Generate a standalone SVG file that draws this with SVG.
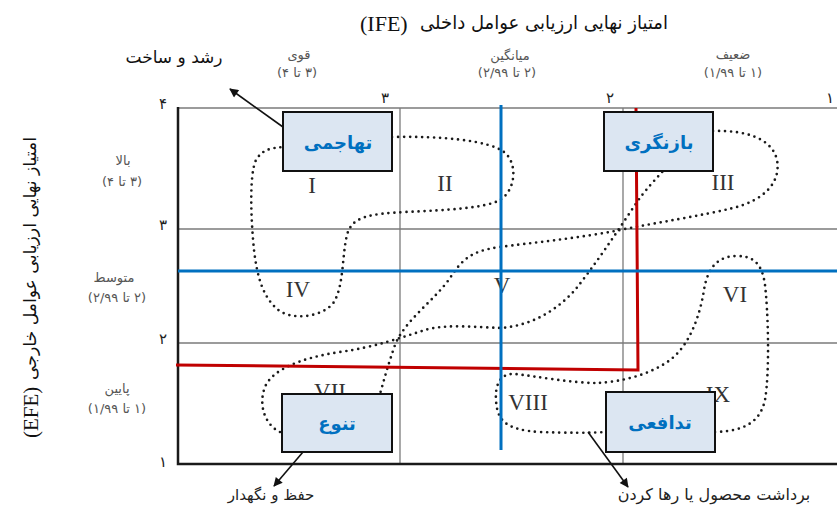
<svg xmlns="http://www.w3.org/2000/svg" width="837" height="511" viewBox="0 0 837 511">
<defs>
<marker id="ah" viewBox="0 0 10 10" refX="9" refY="5" markerWidth="11" markerHeight="9" markerUnits="userSpaceOnUse" orient="auto"><path d="M0,0 L10,5 L0,10 z" fill="#111"/></marker>
</defs>
<style>
.fa{font-family:'DejaVu Sans','Noto Sans',sans-serif;}
.lbl{font-size:13px;fill:#555;text-anchor:middle}
.tick{font-family:'DejaVu Sans',sans-serif;font-size:15px;fill:#222;text-anchor:middle}
.rom{font-family:'Liberation Serif',serif;font-size:23px;fill:#333;text-anchor:middle}
.grid{stroke:#7a7a7a;stroke-width:1.3;fill:none}
.frame{stroke:#1a1a1a;stroke-width:2.5;fill:none}
.dot{stroke:#1a1a1a;stroke-width:2.7;stroke-dasharray:0 6;stroke-linecap:round;fill:none}
.box rect{fill:#dce6f2;stroke:#111;stroke-width:2}
.box text{font-family:'DejaVu Sans',sans-serif;font-size:18px;font-weight:bold;fill:#0070c0;text-anchor:middle}
.arr{stroke:#111;stroke-width:1.6;fill:none;marker-end:url(#ah)}
.blue{stroke:#0070c0;stroke-width:3;fill:none}
.red{stroke:#c00000;stroke-width:3;fill:none}
</style>
<rect x="0" y="0" width="837" height="511" fill="#fff"/>

<g id="titles">
<text class="fa" x="668" y="29" font-size="19" text-anchor="end" fill="#111" textLength="248" lengthAdjust="spacingAndGlyphs">امتیاز نهایی ارزیابی عوامل داخلی</text>
<text x="360" y="31" font-family="'Liberation Serif',serif" font-size="22" fill="#111">(IFE)</text>
<g transform="translate(38,0) rotate(-90)">
<text class="fa" x="-137" y="-2" font-size="17" text-anchor="end" fill="#111" textLength="243" lengthAdjust="spacingAndGlyphs">امتیاز نهایی ارزیابی عوامل خارجی</text>
<text x="-438" y="0" font-family="'Liberation Serif',serif" font-size="21" fill="#111">(EFE)</text>
</g>
</g>

<g id="axis-labels">
<text class="fa lbl" x="299" y="59" direction="rtl">قوی</text>
<text class="fa lbl" x="297" y="77" direction="rtl">(۳ تا ۴)</text>
<text class="fa lbl" x="510" y="60" direction="rtl">میانگین</text>
<text class="fa lbl" x="507" y="77" direction="rtl">(۲ تا ۲/۹۹)</text>
<text class="fa lbl" x="733" y="59" direction="rtl">ضعیف</text>
<text class="fa lbl" x="733" y="77" direction="rtl">(۱ تا ۱/۹۹)</text>
<text class="fa lbl" x="123" y="165" direction="rtl">بالا</text>
<text class="fa lbl" x="122" y="186" direction="rtl">(۳ تا ۴)</text>
<text class="fa lbl" x="114" y="282" direction="rtl">متوسط</text>
<text class="fa lbl" x="117" y="302" direction="rtl">(۲ تا ۲/۹۹)</text>
<text class="fa lbl" x="117" y="393" direction="rtl">پایین</text>
<text class="fa lbl" x="117" y="413" direction="rtl">(۱ تا ۱/۹۹)</text>
<text class="tick" x="163" y="109">۴</text>
<text class="tick" x="163" y="230">۳</text>
<text class="tick" x="163" y="344">۲</text>
<text class="tick" x="163" y="467">۱</text>
<text class="tick" x="385" y="103">۳</text>
<text class="tick" x="610" y="103">۲</text>
<text class="tick" x="830" y="103">۱</text>
</g>

<g id="grid">
<line class="grid" x1="178" y1="108" x2="837" y2="108"/>
<line class="grid" x1="178" y1="229" x2="837" y2="229"/>
<line class="grid" x1="178" y1="343" x2="837" y2="343"/>
<line class="grid" x1="400" y1="108" x2="400" y2="464"/>
<line class="grid" x1="623" y1="108" x2="623" y2="464"/>
<polyline class="frame" points="178,107 178,464 837,464"/>
</g>

<g id="cells">
<text class="rom" x="312" y="193">I</text>
<text class="rom" x="445" y="191">II</text>
<text class="rom" x="723" y="190">III</text>
<text class="rom" x="298" y="297">IV</text>
<text class="rom" x="502" y="293">V</text>
<text class="rom" x="735" y="302">VI</text>
<text class="rom" x="330" y="399">VII</text>
<text class="rom" x="528" y="410">VIII</text>
<text class="rom" x="718" y="402">IX</text>
</g>

<g id="connectors">
<path class="dot" d="M392,137 C440,136 488,140 504,152 C518,163 516,190 500,200 C485,208 450,210 405,212 C370,214 352,216 347,235 C342,255 344,285 334,302 C324,317 290,322 276,308 C262,295 257,275 254,250 C251,220 249,175 256,160 C262,150 270,148 283,147"/>
<path class="dot" d="M713,131 C745,130 772,138 777,160 C781,182 765,200 733,208 C700,216 660,222 620,230 C580,238 530,243 500,247 C470,251 462,260 450,278 C435,300 405,320 395,345 C388,365 384,380 380,394"/>
<path class="dot" d="M280,432 C265,425 258,405 265,387 C272,370 300,358 340,352 C375,347 400,338 425,330 C445,324 475,327 500,328 C530,326 555,312 575,290 C595,265 615,235 635,205 C645,190 655,180 663,171"/>
<path class="dot" d="M715,432 C745,431 760,422 765,400 C770,370 768,310 765,285 C762,262 752,256 737,256 C720,256 708,265 704,290 C700,315 690,345 670,360 C650,375 620,382 597,383 C570,383 535,376 515,374 C500,373 495,385 496,400 C497,420 505,430 540,432 C570,433 590,433 606,432"/>
<polyline class="red" points="176,365 638,370 636,108"/>
<line class="blue" x1="501" y1="105" x2="501" y2="450"/>
<line class="blue" x1="178" y1="271" x2="837" y2="271"/>
<line class="arr" x1="283" y1="127" x2="230" y2="89"/>
<line class="arr" x1="303" y1="452" x2="274" y2="486"/>
<line class="arr" x1="588" y1="432" x2="628" y2="487"/>
</g>

<g id="node-tahajomi" class="box">
<rect x="283" y="112" width="109" height="59"/>
<text x="338" y="149">تهاجمی</text>
</g>
<g id="node-baznegari" class="box">
<rect x="604" y="112" width="109" height="59"/>
<text x="659" y="149">بازنگری</text>
</g>
<g id="node-tanavo" class="box">
<rect x="282" y="394" width="110" height="58"/>
<text x="337" y="430">تنوع</text>
</g>
<g id="node-tadafoi" class="box">
<rect x="606" y="392" width="109" height="60"/>
<text x="660" y="429">تدافعی</text>
</g>

<g id="outcomes">
<text class="fa" x="174" y="63" font-size="17" text-anchor="middle" fill="#111">رشد و ساخت</text>
<text class="fa" x="271" y="500" font-size="15" text-anchor="middle" fill="#222">حفظ و نگهدار</text>
<text class="fa" x="714" y="500" font-size="16" text-anchor="middle" fill="#222">برداشت محصول یا رها کردن</text>
</g>
</svg>
